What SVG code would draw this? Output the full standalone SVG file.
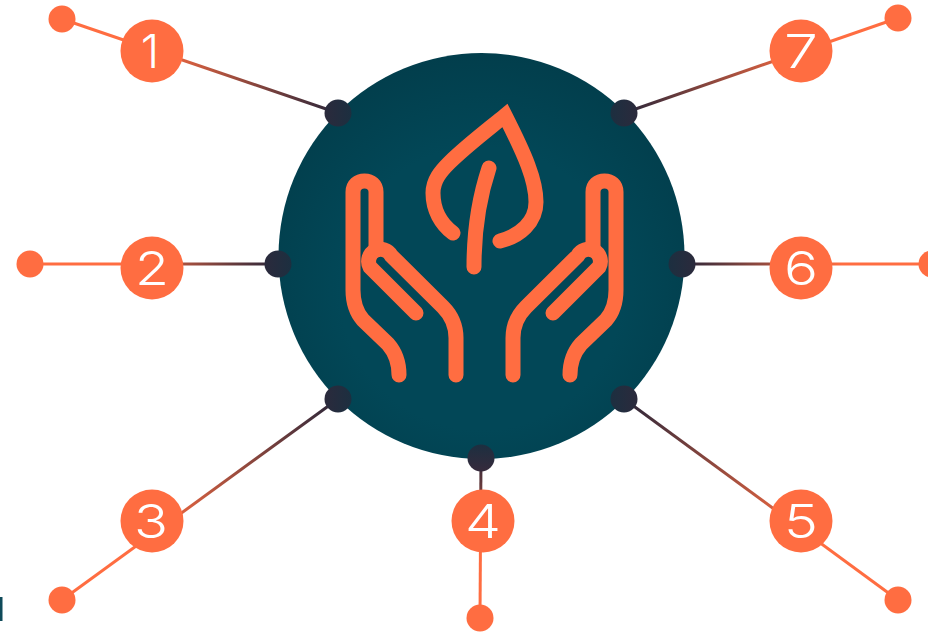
<svg xmlns="http://www.w3.org/2000/svg" xmlns:xlink="http://www.w3.org/1999/xlink" width="928" height="632" viewBox="0 0 928 632">
<style>
.num{font-family:"Inter","Liberation Sans",sans-serif;font-weight:300;font-size:47px;fill:#fff;text-anchor:middle}
.big{fill:#ff6d41}
.c{fill:none;stroke-width:3;stroke-linecap:butt}
.ic{fill:none;stroke:#ff6d41;stroke-width:15;stroke-linecap:round;stroke-linejoin:miter}
</style>
<defs>
<radialGradient id="disc" cx="50%" cy="58%" r="58%"><stop offset="0.6" stop-color="#024757"/><stop offset="1" stop-color="#023e4c"/></radialGradient>
<linearGradient id="dl" x1="0" y1="0" x2="1" y2="0"><stop offset="0" stop-color="#2b2a3c"/><stop offset="1" stop-color="#1c2f40"/></linearGradient>
<linearGradient id="dr" x1="0" y1="0" x2="1" y2="0"><stop offset="0" stop-color="#1c2f40"/><stop offset="1" stop-color="#2b2a3c"/></linearGradient>
<linearGradient id="dv" x1="0" y1="0" x2="0" y2="1"><stop offset="0" stop-color="#1c2f40"/><stop offset="1" stop-color="#362a3c"/></linearGradient>
<linearGradient id="l1" gradientUnits="userSpaceOnUse" x1="62" y1="19" x2="338" y2="113"><stop offset="0.32" stop-color="#ff6d41"/><stop offset="1" stop-color="#29263a"/></linearGradient>
<linearGradient id="l2" gradientUnits="userSpaceOnUse" x1="30" y1="264" x2="278" y2="264"><stop offset="0.36" stop-color="#ff6d41"/><stop offset="1" stop-color="#29263a"/></linearGradient>
<linearGradient id="l3" gradientUnits="userSpaceOnUse" x1="62" y1="600" x2="338" y2="399"><stop offset="0.32" stop-color="#ff6d41"/><stop offset="1" stop-color="#29263a"/></linearGradient>
<linearGradient id="l4" gradientUnits="userSpaceOnUse" x1="480" y1="618" x2="481" y2="458"><stop offset="0.4" stop-color="#ff6d41"/><stop offset="1" stop-color="#29263a"/></linearGradient>
<linearGradient id="l5" gradientUnits="userSpaceOnUse" x1="898" y1="600" x2="624" y2="399"><stop offset="0.32" stop-color="#ff6d41"/><stop offset="1" stop-color="#29263a"/></linearGradient>
<linearGradient id="l6" gradientUnits="userSpaceOnUse" x1="932" y1="264" x2="682" y2="264"><stop offset="0.36" stop-color="#ff6d41"/><stop offset="1" stop-color="#29263a"/></linearGradient>
<linearGradient id="l7" gradientUnits="userSpaceOnUse" x1="898" y1="18" x2="624" y2="113"><stop offset="0.32" stop-color="#ff6d41"/><stop offset="1" stop-color="#29263a"/></linearGradient>
<g id="hand" class="ic">
<path d="M456 375V338C456 326 451 315 443 307L391.300 255.700A11.300 11.300 0 0 0 370 267L416 313"/>
<path d="M376 248V192C376 185 371 181 364.500 181C358 181 353 185 353 192V290C353 302 356 312 363 320L388 344C395 352 399 363 399 375"/>
</g>
</defs>
<rect width="928" height="632" fill="#fff"/>
<rect x="0" y="597" width="2.500" height="24" fill="#0f4a5a"/>
<g id="connectors">
<path class="c" stroke="url(#l1)" d="M62 19L338 113"/>
<path class="c" stroke="url(#l2)" d="M30 264H278"/>
<path class="c" stroke="url(#l3)" d="M62 600L338 399"/>
<path class="c" stroke="url(#l4)" d="M480 618L481 458"/>
<path class="c" stroke="url(#l5)" d="M898 600L624 399"/>
<path class="c" stroke="url(#l6)" d="M932 264H682"/>
<path class="c" stroke="url(#l7)" d="M898 18L624 113"/>
</g>
<g id="hub">
<circle cx="481.500" cy="256" r="203" fill="url(#disc)"/>
<path class="ic" d="M453 233C441 224 433 210 433 193C433 180 441 171 449 163C465 147 486 131 505 115.500C525 155 536 180 536 202C536 222 520 236 500 241"/>
<path class="ic" d="M489 168C480 195 474 230 474 267"/>
<use xlink:href="#hand" href="#hand"/>
<use xlink:href="#hand" href="#hand" transform="matrix(-1 0 0 1 969 0)"/>
</g>
<g id="node1"><circle fill="url(#dl)" cx="338" cy="113" r="13.500"/><circle class="big" cx="152" cy="51" r="31.500"/><circle class="big" cx="62" cy="19" r="13.500"/><text class="num" x="150" y="68">1</text></g>
<g id="node2"><circle fill="url(#dl)" cx="278" cy="264" r="13.500"/><circle class="big" cx="152" cy="268" r="31.500"/><circle class="big" cx="30" cy="264" r="13.500"/><text class="num" x="152" y="285" textLength="34" lengthAdjust="spacingAndGlyphs">2</text></g>
<g id="node3"><circle fill="url(#dl)" cx="338" cy="399" r="13.500"/><circle class="big" cx="152" cy="521" r="31.500"/><circle class="big" cx="62" cy="600" r="13.500"/><text class="num" x="151" y="538" textLength="34" lengthAdjust="spacingAndGlyphs">3</text></g>
<g id="node4"><circle fill="url(#dv)" cx="481" cy="458" r="13.500"/><circle class="big" cx="483" cy="521" r="31.500"/><circle class="big" cx="480" cy="618" r="13.500"/><text class="num" x="483" y="538" textLength="36" lengthAdjust="spacingAndGlyphs">4</text></g>
<g id="node5"><circle fill="url(#dr)" cx="624" cy="399" r="13.500"/><circle class="big" cx="801" cy="521" r="31.500"/><circle class="big" cx="898" cy="600" r="13.500"/><text class="num" x="801" y="538" textLength="34" lengthAdjust="spacingAndGlyphs">5</text></g>
<g id="node6"><circle fill="url(#dr)" cx="682" cy="264" r="13.500"/><circle class="big" cx="801" cy="268" r="31.500"/><circle class="big" cx="932" cy="264" r="13.500"/><text class="num" x="801" y="285" textLength="34" lengthAdjust="spacingAndGlyphs">6</text></g>
<g id="node7"><circle fill="url(#dr)" cx="624" cy="113" r="13.500"/><circle class="big" cx="801" cy="51" r="31.500"/><circle class="big" cx="898" cy="18" r="13.500"/><text class="num" x="801" y="68" textLength="34" lengthAdjust="spacingAndGlyphs">7</text></g>
</svg>
